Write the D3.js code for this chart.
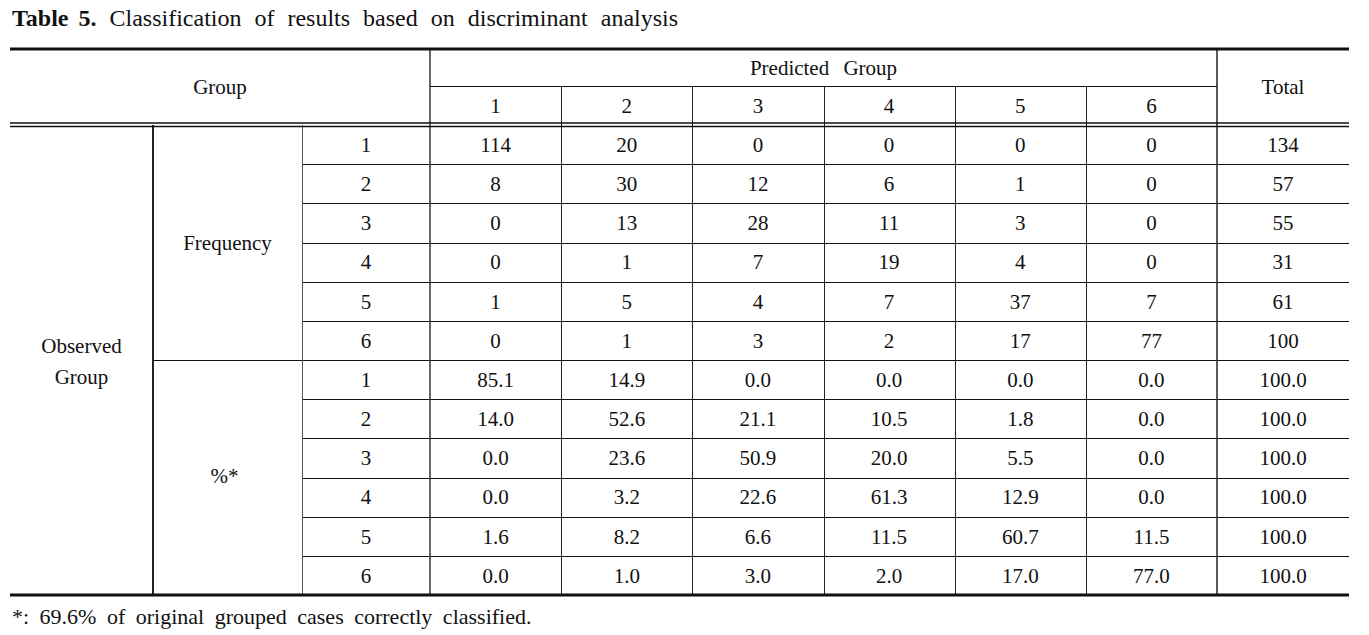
<!DOCTYPE html>
<html><head><meta charset="utf-8">
<script src="https://cdn.jsdelivr.net/npm/d3@7"></script>
<style>
html,body{margin:0;padding:0;background:#fff;}
svg{display:block;}
text{font-family:"Liberation Serif","Times New Roman",serif;fill:#111;}
</style></head>
<body>
<svg id="chart" width="1369" height="635"></svg>
<script>
const titleBold = "Table 5.";
const titleText = "Classification of results based on discriminant analysis";
const footnote = "*: 69.6% of original grouped cases correctly classified.";
const predictedGroups = ["1","2","3","4","5","6"];
const observedGroups = ["1","2","3","4","5","6"];
const frequency = [
  [114,20,0,0,0,0],
  [8,30,12,6,1,0],
  [0,13,28,11,3,0],
  [0,1,7,19,4,0],
  [1,5,4,7,37,7],
  [0,1,3,2,17,77]
];
const freqTotals = [134,57,55,31,61,100];
const percent = [
  ["85.1","14.9","0.0","0.0","0.0","0.0"],
  ["14.0","52.6","21.1","10.5","1.8","0.0"],
  ["0.0","23.6","50.9","20.0","5.5","0.0"],
  ["0.0","3.2","22.6","61.3","12.9","0.0"],
  ["1.6","8.2","6.6","11.5","60.7","11.5"],
  ["0.0","1.0","3.0","2.0","17.0","77.0"]
];
const percentTotals = ["100.0","100.0","100.0","100.0","100.0","100.0"];

(function(){
const svg = d3.select("#chart");
const FS = 21;
const L = 10, R = 1349, T = 49, subTop = 86, headBottom = 125, B = 595;
const colObs = [10,153], colType = [153,302], colRow = [302,430];
const xPred = d3.scaleBand().domain(predictedGroups).range([430,1217]);
const xTotal = [1217,1349];
const rowKeys = d3.range(12);
const y = d3.scaleBand().domain(rowKeys).range([headBottom, B]);

function txt(x, yy, s, opts={}) {
  const t = svg.append("text")
    .attr("x", x).attr("y", yy)
    .attr("text-anchor", opts.anchor || "middle")
    .attr("dy", "0.35em")
    .style("font-size", (opts.size||FS)+"px")
    .style("word-spacing", (opts.ws||0)+"px")
    .text(s);
  if (opts.bold) t.style("font-weight","bold");
  return t;
}
function hline(x1,x2,yy,w,c){svg.append("line").attr("x1",x1).attr("x2",x2).attr("y1",yy).attr("y2",yy).attr("stroke",c||"#111").attr("stroke-width",w||1);}
function vline(xx,y1,y2,w,c){svg.append("line").attr("x1",xx).attr("x2",xx).attr("y1",y1).attr("y2",y2).attr("stroke",c||"#111").attr("stroke-width",w||1);}

// Title
const tt = svg.append("text").attr("x",12).attr("y",18).attr("dy","0.35em").style("font-size","24px").style("word-spacing","7px");
tt.append("tspan").style("font-weight","bold").style("word-spacing","4px").text(titleBold);
tt.append("tspan").text(" " + titleText);

// Header
txt((L+430)/2, (T+headBottom)/2, "Group");
txt((430+1217)/2, (T+subTop)/2, "Predicted Group", {ws:9});
predictedGroups.forEach(g => txt(xPred(g)+xPred.bandwidth()/2, (subTop+headBottom)/2, g));
txt((xTotal[0]+xTotal[1])/2, (T+headBottom)/2, "Total");

// Body
const mid = k => y(k)+y.bandwidth()/2;
observedGroups.forEach((g,i) => {
  txt((colRow[0]+colRow[1])/2, mid(i), g);
  txt((colRow[0]+colRow[1])/2, mid(i+6), g);
  predictedGroups.forEach((p,j) => {
    txt(xPred(p)+xPred.bandwidth()/2, mid(i), String(frequency[i][j]));
    txt(xPred(p)+xPred.bandwidth()/2, mid(i+6), percent[i][j]);
  });
  txt((xTotal[0]+xTotal[1])/2, mid(i), String(freqTotals[i]));
  txt((xTotal[0]+xTotal[1])/2, mid(i+6), percentTotals[i]);
});
txt((colType[0]+colType[1])/2, (y(0)+y(5)+y.bandwidth())/2, "Frequency");
txt((colType[0]+colType[1])/2 - 3, (y(6)+y(11)+y.bandwidth())/2 - 2, "%*");
txt((colObs[0]+colObs[1])/2, (headBottom+B)/2 - 14, "Observed");
txt((colObs[0]+colObs[1])/2, (headBottom+B)/2 + 17, "Group");

// Row lines
rowKeys.slice(1).forEach(k => {
  const yy = Math.round(y(k)) + 0.5;
  hline(k===6 ? colType[0] : colRow[0], R, yy, 1);
});

// Vertical lines
vline(153, headBottom, B, 2, "#222");
vline(302.5, headBottom, B, 1, "#555");
vline(430, T, B, 1.5, "#333");
predictedGroups.slice(1).forEach(p => vline(Math.round(xPred(p))+0.5, subTop, B, 1, "#222"));
vline(1217, T, B, 1.5, "#222");
hline(430, 1217, subTop+0.5, 1);

// Thick rules
hline(L, R, T, 3);
hline(L, R, 123, 1.5);
hline(L, R, 126.5, 1.5);
hline(L, R, B, 3);

// Footnote
txt(12, 616, footnote, {anchor:"start", ws:5, size:22});
})();
</script>
</body></html>
